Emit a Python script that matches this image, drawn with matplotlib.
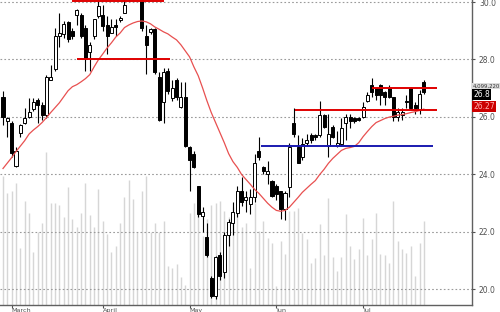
import matplotlib
matplotlib.use('Agg')
import matplotlib.pyplot as plt
import numpy as np

# ---- data ----
opens = [26.7, 25.85, 25.8, 24.3, 25.45, 25.8, 26.0, 26.28, 26.6, 26.4,
         26.08, 27.3, 27.65, 28.8, 28.9, 29.3, 29.0, 29.55, 29.55, 29.1,
         28.25, 28.8, 29.5, 29.55, 29.2, 28.92, 29.2, 29.38, 29.62, 30.1,
         30.5, 30.3, 30.4, 28.8, 28.95, 29.05, 27.4, 26.5, 27.6, 26.67,
         27.3, 26.35, 26.7, 24.95, 24.7, 23.6, 22.55, 21.8, 20.4, 19.75,
         21.2, 20.6, 21.9, 22.3, 22.65, 23.4, 23.1, 22.95, 23.2, 24.8,
         24.25, 24.0, 23.75, 23.6, 23.4, 22.8, 23.55, 25.8, 24.95, 24.6,
         25.1, 25.38, 25.38, 25.38, 26.07, 24.97, 25.65, 25.0, 25.05, 25.8,
         26.0, 25.97, 25.97, 26.0, 26.55, 27.1, 27.0, 27.1, 26.85, 27.0,
         26.7, 26.0, 26.08, 26.55, 27.0, 26.42, 26.25, 27.2]
highs = [26.9, 26.0, 25.85, 24.95, 25.75, 26.3, 26.65, 26.65, 26.65, 26.5,
         27.45, 27.8, 29.1, 29.6, 29.35, 29.35, 29.1, 29.75, 29.6, 29.2,
         28.6, 29.4, 30.05, 29.9, 29.5, 29.4, 29.4, 29.5, 30.1, 30.7,
         30.8, 30.8, 30.6, 29.2, 29.1, 29.1, 27.55, 27.7, 27.7, 27.3,
         27.35, 27.2, 27.2, 25.0, 24.8, 23.6, 22.85, 22.3, 20.45, 21.15,
         21.3, 22.0, 22.45, 23.05, 23.6, 23.9, 23.4, 23.5, 24.7, 25.3,
         24.3, 24.45, 23.8, 23.65, 23.4, 23.4, 25.1, 26.3, 25.35, 25.25,
         25.4, 25.45, 25.4, 26.55, 26.1, 26.1, 25.7, 25.5, 25.95, 26.1,
         26.1, 26.0, 26.0, 26.5, 26.85, 27.35, 27.05, 27.15, 26.9, 27.1,
         26.7, 26.3, 26.3, 26.75, 27.05, 26.5, 26.95, 27.3]
lows = [25.7, 25.3, 24.6, 24.25, 25.3, 25.75, 25.97, 26.2, 25.8, 25.9,
        25.95, 27.3, 27.6, 28.45, 28.75, 28.6, 28.7, 29.2, 28.75, 27.6,
        27.6, 28.7, 29.45, 29.0, 28.2, 28.92, 28.8, 29.3, 29.6, 30.05,
        30.2, 30.2, 29.0, 27.5, 28.9, 27.5, 25.85, 25.8, 26.8, 26.55,
        26.6, 26.3, 24.95, 23.4, 24.2, 22.5, 22.0, 21.1, 19.7, 19.65,
        20.3, 20.4, 21.5, 21.9, 22.5, 22.9, 22.7, 22.6, 23.05, 24.5,
        24.0, 23.65, 23.2, 23.1, 22.45, 22.4, 23.2, 25.3, 24.4, 24.5,
        25.0, 25.1, 25.2, 25.3, 25.6, 24.6, 25.25, 24.95, 25.0, 25.2,
        25.6, 25.8, 25.85, 25.95, 26.5, 26.7, 26.6, 26.4, 26.4, 26.65,
        25.85, 25.85, 25.9, 26.3, 26.25, 26.1, 26.1, 26.8]
closes = [26.0, 25.97, 24.75, 24.8, 25.7, 25.97, 26.18, 26.5, 26.4, 26.08,
          27.4, 27.4, 28.8, 28.92, 29.25, 28.7, 28.8, 29.72, 28.8, 28.05,
          28.5, 29.4, 29.85, 29.15, 28.8, 29.13, 29.12, 29.44, 29.9, 30.5,
          30.3, 30.6, 29.1, 28.5, 29.05, 27.55, 25.9, 27.55, 26.9, 27.0,
          26.7, 26.7, 24.97, 24.5, 24.25, 22.6, 22.7, 21.2, 19.75, 21.1,
          20.45, 21.9, 22.35, 22.7, 23.4, 23.05, 23.2, 23.2, 24.4, 24.6,
          24.1, 24.1, 23.25, 23.3, 22.8, 23.35, 24.95, 25.4, 24.4, 25.05,
          25.2, 25.2, 25.28, 26.07, 25.65, 25.4, 25.3, 25.1, 25.62, 26.0,
          25.85, 25.87, 25.9, 26.35, 26.75, 26.85, 26.75, 26.75, 26.7, 26.7,
          26.0, 26.18, 26.18, 26.5, 26.3, 26.3, 26.8, 26.85]
# volume, millions of shares
volume = [6.3, 5.5, 5.6, 6.0, 2.8, 5.1, 4.5, 2.6, 3.6, 4.0,
          7.5, 5.0, 5.0, 4.9, 4.3, 5.8, 4.2, 3.8, 4.5, 6.0,
          4.4, 3.8, 5.7, 4.1, 3.5, 2.6, 2.9, 4.0, 5.3, 6.1,
          5.2, 3.6, 5.6, 6.3, 3.6, 4.0, 3.6, 4.1, 1.9, 1.8,
          2.0, 1.4, 1.0, 4.5, 5.0, 5.5, 3.4, 4.2, 4.9, 5.0,
          5.1, 4.6, 4.3, 4.8, 4.5, 3.8, 4.0, 1.84, 5.01, 3.62,
          4.11, 3.30, 3.06, 0.94, 3.14, 2.49, 4.60, 4.60, 4.77, 3.55,
          3.22, 2.08, 2.33, 3.95, 2.44, 5.25, 2.37, 1.67, 2.37, 4.44,
          2.89, 2.24, 2.73, 4.28, 2.44, 3.22, 4.52, 2.49, 2.44, 2.08,
          5.09, 3.14, 2.73, 2.57, 2.89, 1.43, 3.06, 4.099220]
# 20-day moving average (red curve)
ma20 = [24.20, 24.39, 24.58, 24.79, 24.98, 25.17, 25.40, 25.54, 25.66, 25.80,
        25.97, 26.15, 26.32, 26.49, 26.70, 26.91, 27.05, 27.12, 27.22, 27.33,
        27.47, 27.74, 27.99, 28.19, 28.40, 28.58, 28.78, 28.92, 29.11, 29.20,
        29.27, 29.32, 29.34, 29.31, 29.24, 29.13, 29.05, 28.96, 28.89, 28.78,
        28.68, 28.51, 28.30, 28.09, 27.74, 27.43, 27.01, 26.56, 26.15, 25.80,
        25.45, 25.10, 24.72, 24.44, 24.24, 23.99, 23.82, 23.65, 23.47, 23.33,
        23.16, 22.99, 22.85, 22.74, 22.71, 22.74, 22.85, 23.02, 23.19, 23.37,
        23.51, 23.65, 23.78, 23.99, 24.17, 24.38, 24.55, 24.69, 24.83, 24.90,
        24.93, 24.97, 25.10, 25.31, 25.49, 25.66, 25.80, 25.87, 25.94, 25.99,
        26.02, 26.06, 26.08, 26.11, 26.15, 26.18, 26.22, 26.27]

month_ticks = [2, 23, 43, 63, 83]
month_labels = ['March', 'April', 'May', 'Jun', 'Jul']
price_ticks = [20.0, 22.0, 24.0, 26.0, 28.0, 30.0]

# trend lines: (start index, end index, price, colour)
levels = [(16, 37, 30.02, '#e00000'),
          (17, 38.5, 28.0, '#e00000'),
          (67.3, 100, 26.25, '#e00000'),
          (85, 100, 27.02, '#e00000'),
          (59.4, 99, 25.0, '#1a1ab0')]

last_volume_text = '4,099,220'
last_close_text = '26.8'
last_ma_text = '26.27'

# ---- figure ----
fig = plt.figure(figsize=(5.0, 3.12), dpi=100)
ax = fig.add_axes([0.0, 0.022, 0.944, 0.978])
ax_vol = ax.twinx()

x = np.arange(len(closes))
o = np.array(opens); c = np.array(closes)
h = np.array(highs); l = np.array(lows)

# volume behind everything
ax_vol.vlines(x, 0, volume, color='#d6d6d6', lw=1.0)
ax_vol.set_ylim(0, 14.93)
ax_vol.set_yticks([])
for s in ax_vol.spines.values():
    s.set_visible(False)

ax.set_zorder(ax_vol.get_zorder() + 1)
ax.patch.set_visible(False)

# grid
for p in price_ticks:
    ax.axhline(p, color='#9a9a9a', lw=0.8, ls=(0, (1.5, 2.0)), zorder=0)

# candles
up = c >= o
ax.vlines(x, l, h, color='black', lw=0.8, zorder=2)
body_bot = np.minimum(o, c)
body_h = np.maximum(np.abs(c - o), 0.02)
ax.bar(x[up], body_h[up], bottom=body_bot[up], width=0.7,
       color='white', edgecolor='black', linewidth=0.7, zorder=3)
ax.bar(x[~up], body_h[~up], bottom=body_bot[~up], width=0.7,
       color='black', edgecolor='black', linewidth=0.7, zorder=3)

# moving average
ax.plot(x, ma20, color='#e85050', lw=0.9, zorder=4)

# support / resistance lines
for x0, x1, p, col in levels:
    ax.hlines(p, x0, x1, color=col, lw=1.4, zorder=5)

ax.set_xlim(-0.69, 108.1)
ax.set_ylim(19.44, 30.07)

# axes styling
ax.spines['top'].set_visible(False)
ax.spines['left'].set_visible(False)
ax.spines['right'].set_color('#606060')
ax.spines['bottom'].set_color('#606060')
ax.spines['right'].set_linewidth(1.0)
ax.spines['bottom'].set_linewidth(1.0)

ax.yaxis.tick_right()
ax.set_yticks(price_ticks)
ax.set_yticklabels(['%.1f' % p for p in price_ticks])
ax.tick_params(axis='y', length=2, pad=3, labelsize=5.5, colors='#505050')

ax.set_xticks(month_ticks)
ax.set_xticklabels(month_labels)
ax.tick_params(axis='x', length=2, pad=0, labelsize=4.6, colors='#505050',
               direction='out')
for lab in ax.get_xticklabels():
    lab.set_horizontalalignment('left')

# right-hand value tags
ax.text(1.001, 27.08, last_volume_text, transform=ax.get_yaxis_transform(),
        fontsize=3.9, color='#333333', va='center', ha='left', clip_on=False,
        bbox=dict(boxstyle='square,pad=0.05', facecolor='#dcdcdc', edgecolor='none'))
ax.text(1.003, 26.77, last_close_text, transform=ax.get_yaxis_transform(),
        fontsize=5.5, color='white', va='center', ha='left', clip_on=False,
        bbox=dict(boxstyle='square,pad=0.15', facecolor='black', edgecolor='none'))
ax.text(1.003, 26.35, last_ma_text, transform=ax.get_yaxis_transform(),
        fontsize=5.5, color='#ffb0b0', va='center', ha='left', clip_on=False,
        bbox=dict(boxstyle='square,pad=0.15', facecolor='#cc0000', edgecolor='none'))

fig.savefig('out.png', dpi=100)
